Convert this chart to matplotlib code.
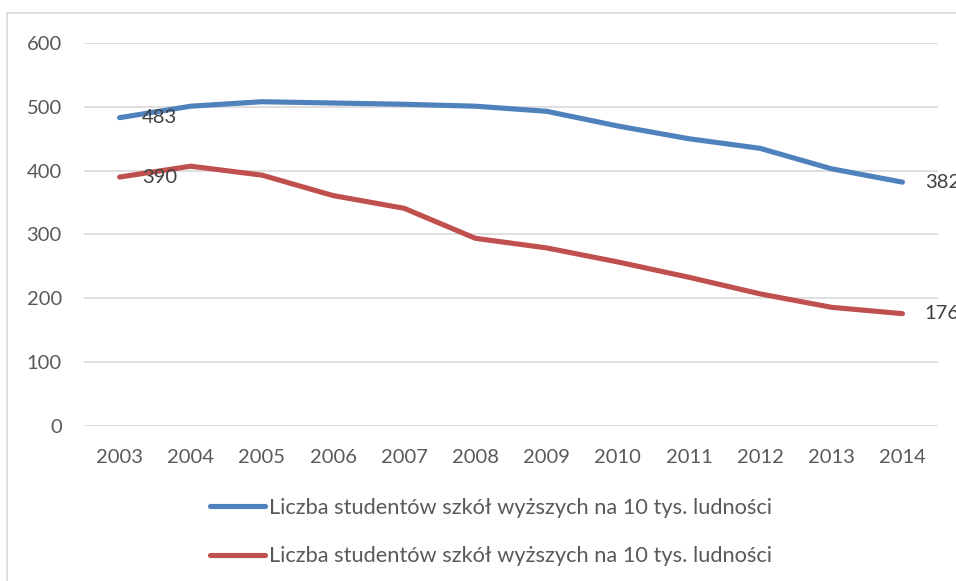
import numpy as np
import matplotlib.pyplot as plt
from matplotlib.lines import Line2D

years = ["2003", "2004", "2005", "2006", "2007", "2008",
         "2009", "2010", "2011", "2012", "2013", "2014"]
blue_values = [483, 501, 508, 506, 504, 501, 493, 470, 450, 435, 403, 382]
red_values = [390, 407, 393, 361, 341, 294, 279, 257, 233, 207, 186, 176]
series_label = "Liczba studentów szkół wyższych na 10 tys. ludności"
y_ticks = [0, 100, 200, 300, 400, 500, 600]

blue = "#4F81BD"
red = "#C0504D"
grid_col = "#D9D9D9"
text_col = "#595959"

plt.rcParams['font.family'] = ['Lato', 'DejaVu Sans']

W, H = 956, 581
fig = plt.figure(figsize=(W / 100, H / 100), dpi=100)

# chart area frame (only top and left edges visible)
fig.add_artist(Line2D([7 / W, 1], [1 - 13 / H, 1 - 13 / H], color=grid_col, lw=1.2))
fig.add_artist(Line2D([7 / W, 7 / W], [0, 1 - 13 / H], color=grid_col, lw=1.2))

left, right = 84 / W, 938 / W
bottom, top = 1 - 426 / H, 1 - 43 / H
ax = fig.add_axes([left, bottom, right - left, top - bottom])

x = np.arange(len(years))
ax.plot(x, blue_values, color=blue, lw=3.7, solid_capstyle='round',
        solid_joinstyle='round', label=series_label, zorder=3)
ax.plot(x, red_values, color=red, lw=3.7, solid_capstyle='round',
        solid_joinstyle='round', label=series_label, zorder=3)

ax.set_xlim(-0.5, len(years) - 0.5)
ax.set_ylim(0, 600)
ax.set_yticks(y_ticks)
ax.set_xticks(x)
ax.set_xticklabels(years)
ax.tick_params(axis='both', length=0, labelsize=14.5, labelcolor=text_col)
ax.tick_params(axis='y', pad=16)
ax.tick_params(axis='x', pad=16.5)
ax.grid(axis='y', color=grid_col, lw=1.2)
ax.set_axisbelow(True)
for s in ax.spines.values():
    s.set_visible(False)

# data labels on first and last points (last ones run off the edge, as in the source)
for vals in (blue_values, red_values):
    for i in (0, len(vals) - 1):
        ax.annotate(str(vals[i]), (x[i], vals[i]), xytext=(16, 0),
                    textcoords='offset points', ha='left', va='center',
                    fontsize=14.5, color="#404040", annotation_clip=False)

handles = [Line2D([], [], color=blue, lw=3.7, solid_capstyle='round'),
           Line2D([], [], color=red, lw=3.7, solid_capstyle='round')]
fig.legend(handles, [series_label, series_label], loc='center',
           bbox_to_anchor=(491 / W, 1 - 532 / H), frameon=False,
           fontsize=15.7, labelcolor=text_col, handlelength=2.5,
           handletextpad=0.2, labelspacing=1.3)

fig.savefig("out.png", dpi=100)
